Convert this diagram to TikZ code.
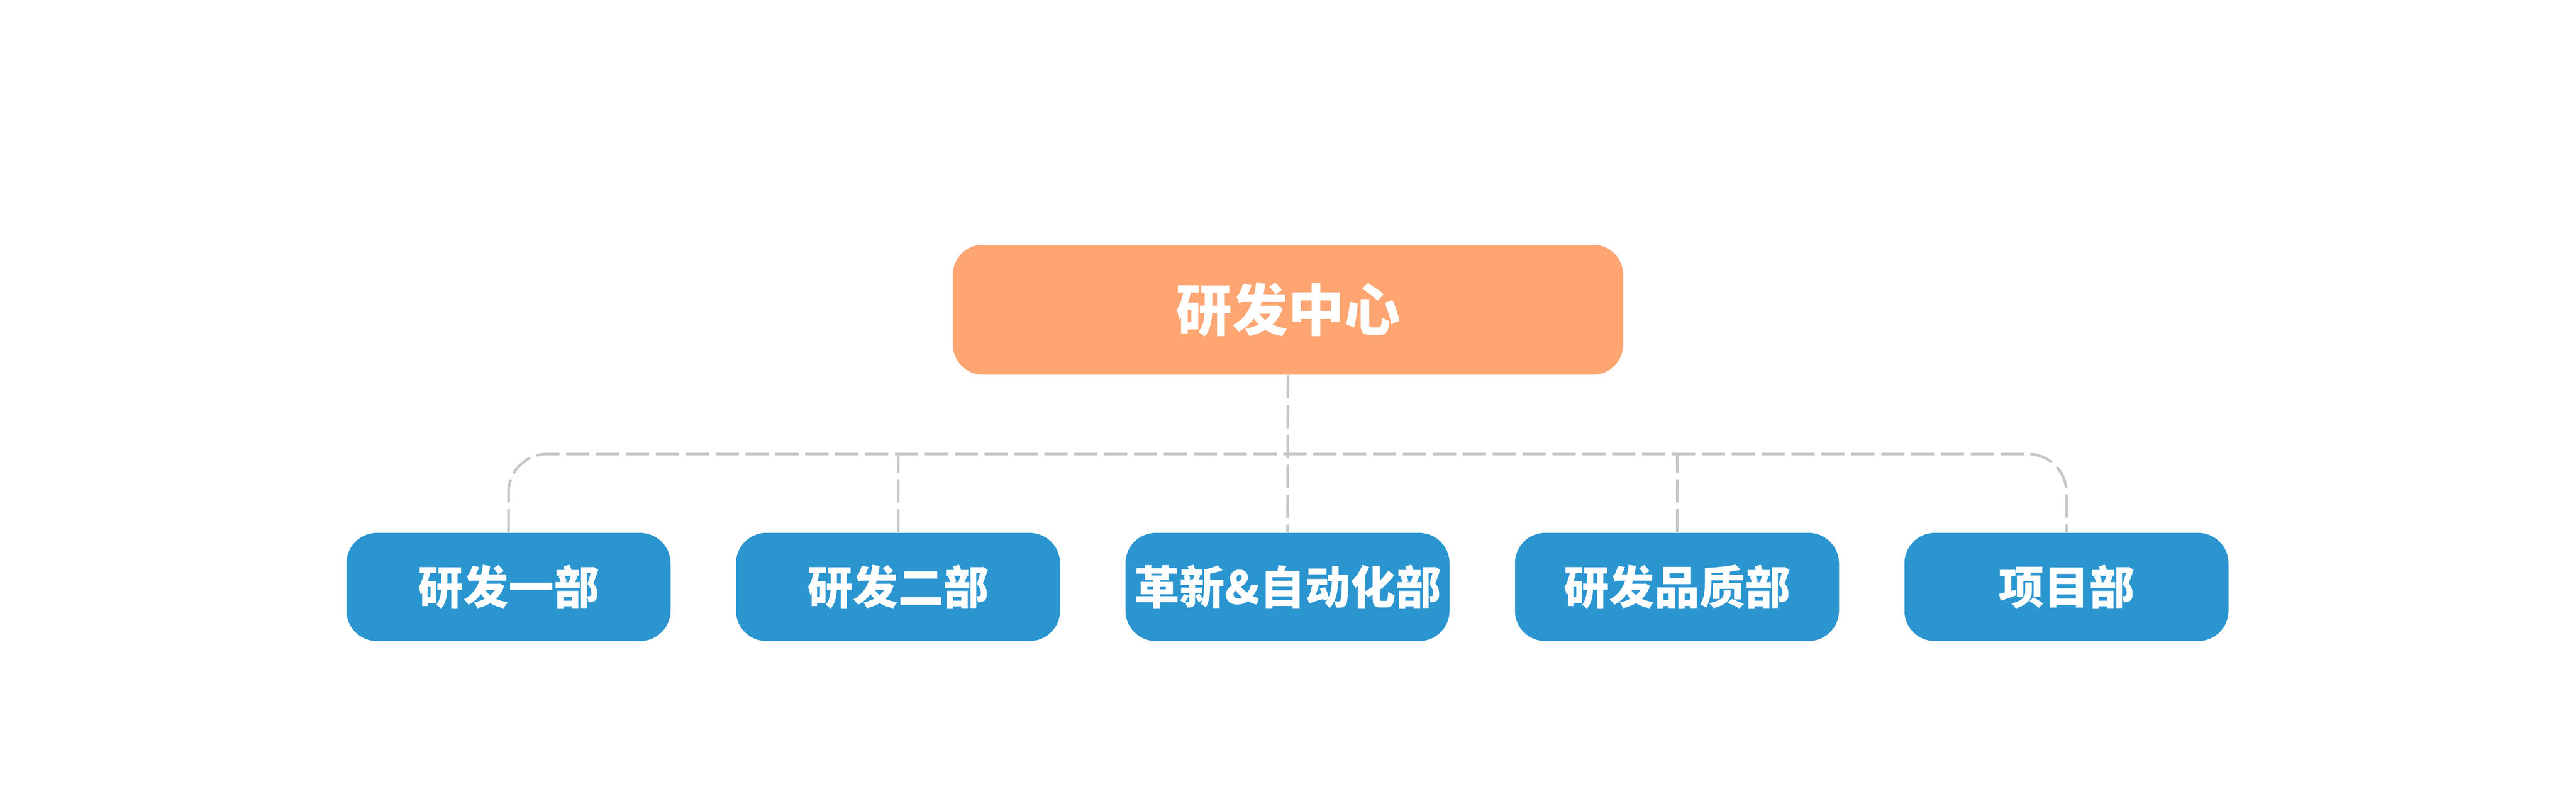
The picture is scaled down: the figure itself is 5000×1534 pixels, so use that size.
\documentclass[tikz,border=0pt]{standalone}
\usepackage{fontspec}
\newfontfamily\cjk{Noto Sans CJK SC}
\definecolor{topfill}{RGB}{254,165,114}
\definecolor{deptfill}{RGB}{43,149,208}
\definecolor{connc}{RGB}{198,198,198}
\begin{document}
\begin{tikzpicture}[x=0.2pt,y=-0.2pt,
  topbox/.style={fill=topfill, rounded corners=11.6pt, minimum width=260.2pt, minimum height=50.4pt, inner sep=0pt, text=white, font=\cjk\bfseries\fontsize{21.8pt}{24pt}\selectfont},
  deptbox/.style={fill=deptfill, rounded corners=11.8pt, minimum width=125.8pt, minimum height=42pt, inner sep=0pt, text=white, font=\cjk\bfseries\fontsize{17.6pt}{20pt}\selectfont},
  conn/.style={draw=connc, line width=1pt, dash pattern=on 9pt off 2.6pt}]
\path[use as bounding box, fill=white] (0,0) rectangle (5000,1534);
\node[topbox] (top) at (2500,601) {研发中心};
\node[deptbox] (b1) at (987,1139) {研发一部};
\node[deptbox] (b2) at (1743,1139) {研发二部};
\node[deptbox] (b3) at (2499,1139) {革新\&自动化部};
\node[deptbox] (b4) at (3255,1139) {研发品质部};
\node[deptbox] (b5) at (4011,1139) {项目部};
\coordinate (bus) at (2500,881);
\coordinate (busR) at (b5.north |- bus);
\draw[conn, rounded corners=15pt] (b1.north) |- (busR) -- (b5.north);
\draw[conn] (top.south) -- (b3.north);
\draw[conn] (b2.north) -- (b2.north |- bus);
\draw[conn] (b4.north) -- (b4.north |- bus);
\end{tikzpicture}
\end{document}
